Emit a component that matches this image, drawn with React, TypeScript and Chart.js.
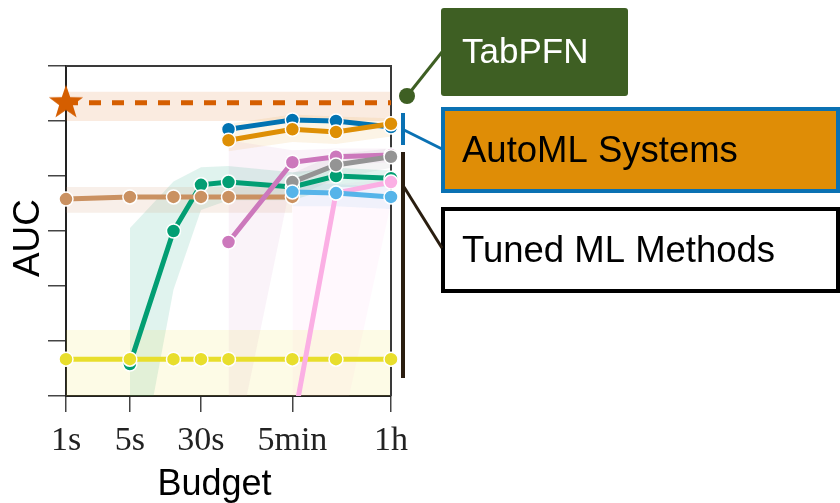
import React, { useEffect, useRef } from 'react';
import { Chart, registerables } from 'chart.js';

Chart.register(...registerables);

// ---- data ----
const budgetTicks = [1, 5, 30, 300, 3600];
const budgetTickLabels = ['1s', '5s', '30s', '5min', '1h'];

const tabpfnBudgets = [1, 3600];
const tabpfnAuc = [5.33, 5.33];
const tabpfnUpper = [5.53, 5.53];
const tabpfnLower = [5.0, 5.0];

const automlBudgets = [60, 300, 900, 3600];
const automlBlueAuc = [4.85, 5.02, 5.0, 4.89];
const automlOrangeAuc = [4.65, 4.85, 4.8, 4.95];
const automlUpper = [4.95, 5.12, 5.08, 5.05];
const automlLower = [4.45, 4.62, 4.58, 4.72];

const brownBudgets = [1, 5, 15, 30, 60, 300];
const brownAuc = [3.58, 3.62, 3.62, 3.62, 3.62, 3.62];
const brownUpper = [3.8, 3.8, 3.8, 3.8, 3.8, 3.8];
const brownLower = [3.33, 3.33, 3.33, 3.33, 3.33, 3.33];

const greenBudgets = [5, 15, 30, 60, 300, 900, 3600];
const greenAuc = [0.58, 3.0, 3.84, 3.89, 3.8, 4.0, 3.96];
const greenUpper = [3.05, 3.9, 4.16, 4.18, 4.07, 4.15, 4.1];
const greenLower = [-2.3, 1.93, 3.38, 3.56, 3.56, 3.8, 3.8];

const purpleBudgets = [60, 300, 900, 3600];
const purpleAuc = [2.8, 4.25, 4.35, 4.38];
const purpleUpper = [4.65, 4.47, 4.5, 4.5];
const purpleLower = [-1.6, 4.0, 4.2, 4.25];

const pinkBudgets = [300, 900, 3600];
const pinkAuc = [-0.6, 3.69, 3.89];
const pinkUpper = [4.0, 3.85, 3.95];
const pinkLower = [-3.0, -1.1, 3.5];

const grayBudgets = [300, 900, 3600];
const grayAuc = [3.89, 4.2, 4.35];
const grayUpper = [4.05, 4.4, 4.5];
const grayLower = [3.6, 3.95, 4.15];

const lightBlueBudgets = [300, 900, 3600];
const lightBlueAuc = [3.71, 3.69, 3.62];
const lightBlueUpper = [3.85, 3.85, 3.8];
const lightBlueLower = [3.45, 3.45, 3.4];

const yellowBudgets = [1, 5, 15, 30, 60, 300, 900, 3600];
const yellowAuc = [0.67, 0.67, 0.67, 0.67, 0.67, 0.67, 0.67, 0.67];
const yellowBandBudgets = [1, 3600];
const yellowUpper = [1.2, 1.2];
const yellowLower = [-0.5, -0.5];

// ---- helpers ----
const zip = (xs: number[], ys: number[]) => xs.map((x, i) => ({ x, y: ys[i] }));

const line = (label: string, xs: number[], ys: number[], color: string, extra: any = {}) => ({
  type: 'line',
  label,
  data: zip(xs, ys),
  borderColor: color,
  backgroundColor: color,
  pointBackgroundColor: color,
  pointBorderColor: '#ffffff',
  pointBorderWidth: 1.5,
  pointRadius: 7,
  borderWidth: 5,
  fill: false,
  tension: 0,
  clip: { left: false, right: false, top: false, bottom: 0 },
  ...extra,
});

const band = (xs: number[], up: number[], lo: number[], color: string) => [
  {
    type: 'line',
    label: '',
    data: zip(xs, up),
    borderWidth: 0,
    borderColor: 'rgba(0,0,0,0)',
    pointRadius: 0,
    fill: false,
  },
  {
    type: 'line',
    label: '',
    data: zip(xs, lo),
    borderWidth: 0,
    borderColor: 'rgba(0,0,0,0)',
    backgroundColor: color,
    pointRadius: 0,
    fill: '-1',
  },
];

function makeStar(): HTMLCanvasElement {
  const c = document.createElement('canvas');
  c.width = 40;
  c.height = 40;
  const g = c.getContext('2d')!;
  const cx = 20, cy = 20, R = 18, r = 7.2;
  g.beginPath();
  for (let i = 0; i < 10; i++) {
    const rad = i % 2 === 0 ? R : r;
    const a = -Math.PI / 2 + (i * Math.PI) / 5;
    const px = cx + rad * Math.cos(a);
    const py = cy + rad * Math.sin(a);
    if (i === 0) g.moveTo(px, py);
    else g.lineTo(px, py);
  }
  g.closePath();
  g.fillStyle = '#d55e00';
  g.fill();
  return c;
}

const framePlugin = {
  id: 'frame',
  beforeDatasetsDraw(chart: any) {
    const { ctx } = chart;
    const { left, right, top, bottom } = chart.chartArea;
    ctx.save();
    ctx.strokeStyle = '#3a3a3a';
    ctx.lineWidth = 2;
    ctx.beginPath();
    ctx.moveTo(left, top);
    ctx.lineTo(right, top);
    ctx.lineTo(right, bottom);
    ctx.stroke();
    ctx.restore();
  },
};

const annotPlugin = {
  id: 'annot',
  afterDraw(chart: any) {
    const ctx = chart.ctx as CanvasRenderingContext2D;
    ctx.save();
    // axis titles
    ctx.fillStyle = '#000000';
    ctx.font = '36px "Liberation Sans", Arial, sans-serif';
    ctx.textAlign = 'center';
    ctx.textBaseline = 'alphabetic';
    ctx.fillText('Budget', 214.5, 495);
    ctx.save();
    ctx.translate(39, 238);
    ctx.rotate(-Math.PI / 2);
    ctx.font = '37px "Liberation Sans", Arial, sans-serif';
    ctx.fillText('AUC', 0, 0);
    ctx.restore();

    ctx.textAlign = 'left';
    // TabPFN
    const green = '#3e5f23';
    ctx.fillStyle = green;
    ctx.beginPath();
    (ctx as any).roundRect ? (ctx as any).roundRect(441, 8, 187, 88, 3) : ctx.rect(441, 8, 187, 88);
    ctx.fill();
    ctx.strokeStyle = green;
    ctx.lineWidth = 3;
    ctx.beginPath();
    ctx.moveTo(407, 96);
    ctx.lineTo(442, 52);
    ctx.stroke();
    ctx.beginPath();
    ctx.arc(407, 96, 8, 0, Math.PI * 2);
    ctx.fill();
    ctx.fillStyle = '#ffffff';
    ctx.font = '35px "Liberation Sans", Arial, sans-serif';
    ctx.fillText('TabPFN', 462, 63);

    // AutoML Systems
    const blue = '#0a71b3';
    ctx.fillStyle = '#df8d06';
    ctx.fillRect(441, 107, 399, 86);
    ctx.strokeStyle = blue;
    ctx.lineWidth = 4;
    ctx.strokeRect(443, 109, 395, 82);
    ctx.lineWidth = 4;
    ctx.beginPath();
    ctx.moveTo(403, 113);
    ctx.lineTo(403, 145);
    ctx.stroke();
    ctx.lineWidth = 3;
    ctx.beginPath();
    ctx.moveTo(404, 130);
    ctx.lineTo(442, 149);
    ctx.stroke();
    ctx.fillStyle = '#000000';
    ctx.font = '36.5px "Liberation Sans", Arial, sans-serif';
    ctx.fillText('AutoML Systems', 462, 162);

    // Tuned ML Methods
    const dark = '#2a1e10';
    ctx.fillStyle = '#ffffff';
    ctx.fillRect(441, 207, 399, 86);
    ctx.strokeStyle = '#000000';
    ctx.lineWidth = 4;
    ctx.strokeRect(443, 209, 395, 82);
    ctx.strokeStyle = dark;
    ctx.lineWidth = 4;
    ctx.beginPath();
    ctx.moveTo(403, 152);
    ctx.lineTo(403, 378);
    ctx.stroke();
    ctx.lineWidth = 3;
    ctx.beginPath();
    ctx.moveTo(404, 187);
    ctx.lineTo(442, 248);
    ctx.stroke();
    ctx.fillStyle = '#000000';
    ctx.fillText('Tuned ML Methods', 462, 262);
    ctx.restore();
  },
};

export default function App() {
  const ref = useRef<HTMLCanvasElement | null>(null);

  useEffect(() => {
    if (!ref.current) return;
    const star = makeStar();
    const datasets: any[] = [
      line('TabPFN', tabpfnBudgets, tabpfnAuc, '#d55e00', {
        borderDash: [12, 11],
        pointStyle: [star, false],
        pointRadius: [18, 0],
        pointBorderWidth: 0,
      }),
      line('AutoML 2', automlBudgets, automlOrangeAuc, '#de8f05'),
      line('AutoML 1', automlBudgets, automlBlueAuc, '#0173b2'),
      line('Light blue', lightBlueBudgets, lightBlueAuc, '#56b4e9'),
      line('Pink', pinkBudgets, pinkAuc, '#fbafe4'),
      line('Gray', grayBudgets, grayAuc, '#949494'),
      line('Purple', purpleBudgets, purpleAuc, '#cc78bc'),
      line('Yellow', yellowBudgets, yellowAuc, '#e8de2c'),
      line('Brown', brownBudgets, brownAuc, '#ca9161'),
      line('Green', greenBudgets, greenAuc, '#029e73'),
      ...band(tabpfnBudgets, tabpfnUpper, tabpfnLower, 'rgba(213,94,0,0.12)'),
      ...band(automlBudgets, automlUpper, automlLower, 'rgba(222,143,5,0.10)'),
      ...band(brownBudgets, brownUpper, brownLower, 'rgba(202,145,97,0.14)'),
      ...band(yellowBandBudgets, yellowUpper, yellowLower, 'rgba(236,225,51,0.12)'),
      ...band(greenBudgets, greenUpper, greenLower, 'rgba(2,158,115,0.12)'),
      ...band(purpleBudgets, purpleUpper, purpleLower, 'rgba(204,120,188,0.09)'),
      ...band(pinkBudgets, pinkUpper, pinkLower, 'rgba(251,175,228,0.09)'),
      ...band(grayBudgets, grayUpper, grayLower, 'rgba(148,148,148,0.10)'),
      ...band(lightBlueBudgets, lightBlueUpper, lightBlueLower, 'rgba(86,180,233,0.10)'),
    ];

    const chart = new Chart(ref.current, {
      type: 'line',
      data: { datasets },
      options: {
        responsive: false,
        animation: false,
        events: [],
        layout: { padding: { left: 0, top: 66, right: 449, bottom: 0 } },
        plugins: {
          legend: { display: false },
          tooltip: { enabled: false },
          filler: { drawTime: 'beforeDatasetsDraw' },
        } as any,
        scales: {
          x: {
            type: 'logarithmic',
            min: 1,
            max: 3600,
            afterBuildTicks: (scale: any) => {
              scale.ticks = budgetTicks.map((v) => ({ value: v }));
            },
            afterFit: (scale: any) => {
              scale.height = 107;
            },
            grid: {
              drawOnChartArea: false,
              drawTicks: true,
              tickLength: 16,
              color: '#444444',
              lineWidth: 1.5,
            },
            border: { display: true, color: '#222222', width: 2 },
            ticks: {
              autoSkip: false,
              maxRotation: 0,
              padding: 9,
              color: '#222222',
              font: { family: '"Liberation Serif", "Times New Roman", serif', size: 34 },
              callback: (value: any) => {
                const i = budgetTicks.indexOf(Number(value));
                return i >= 0 ? budgetTickLabels[i] : '';
              },
            },
          },
          y: {
            type: 'linear',
            min: 0,
            max: 6,
            afterFit: (scale: any) => {
              scale.width = 66;
            },
            grid: {
              drawOnChartArea: false,
              drawTicks: true,
              tickLength: 18,
              color: '#444444',
              lineWidth: 1.5,
            },
            border: { display: true, color: '#222222', width: 2 },
            ticks: { stepSize: 1, display: false },
          },
        },
      } as any,
      plugins: [framePlugin, annotPlugin],
    });
    return () => chart.destroy();
  }, []);

  return (
    <div style={{ position: 'fixed', left: 0, top: 0, width: 840, height: 503, background: '#ffffff' }}>
      <canvas ref={ref} width={840} height={503} style={{ display: 'block', width: 840, height: 503 }} />
    </div>
  );
}
